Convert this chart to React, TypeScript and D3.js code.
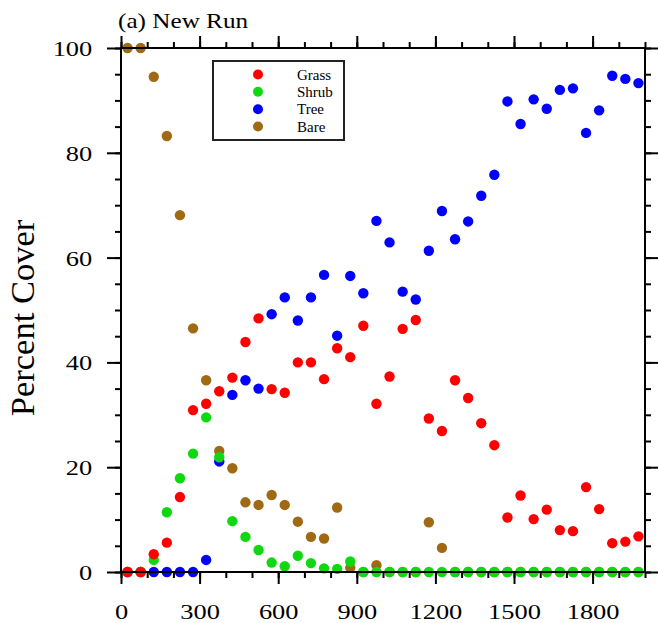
import React from "react";
import * as d3 from "d3";

const years = [
  25, 75, 125, 175, 225, 275, 325, 375, 425, 475,
  525, 575, 625, 675, 725, 775, 825, 875, 925, 975,
  1025, 1075, 1125, 1175, 1225, 1275, 1325, 1375, 1425, 1475,
  1525, 1575, 1625, 1675, 1725, 1775, 1825, 1875, 1925, 1975,
];

const grass = [
  0, 0, 3.4, 5.6, 14.3, 30.9, 32.1, 34.5, 37.1, 43.9,
  48.4, 34.9, 34.2, 40.0, 40.0, 36.8, 42.7, 41.0, 47.0, 32.1,
  37.3, 46.4, 48.1, 29.3, 26.9, 36.6, 33.2, 28.4, 24.2, 10.4,
  14.6, 10.1, 11.9, 8.0, 7.8, 16.2, 12.0, 5.5, 5.8, 6.8,
];

const shrub = [
  0, 0, 2.3, 11.4, 17.9, 22.6, 29.5, 21.9, 9.7, 6.7,
  4.2, 1.8, 1.1, 3.1, 1.7, 0.7, 0.6, 2.0, 0, 0,
  0, 0, 0, 0, 0, 0, 0, 0, 0, 0,
  0, 0, 0, 0, 0, 0, 0, 0, 0, 0,
];

const tree = [
  0, 0, 0, 0, 0, 0, 2.3, 21.1, 33.8, 36.6,
  35.0, 49.2, 52.4, 48.0, 52.4, 56.7, 45.1, 56.5, 53.2, 67.0,
  62.9, 53.5, 52.0, 61.3, 68.9, 63.5, 66.9, 71.8, 75.8, 89.8,
  85.5, 90.2, 88.4, 92.0, 92.3, 83.8, 88.1, 94.7, 94.1, 93.3,
];

const bare = [
  100, 100, 94.5, 83.2, 68.1, 46.5, 36.6, 23.1, 19.8, 13.3,
  12.8, 14.7, 12.8, 9.6, 6.7, 6.4, 12.3, 0.8, 0, 1.3,
  0, 0, 0, 9.5, 4.6, 0, 0, 0, 0, 0,
  0, 0, 0, 0, 0, 0, 0, 0, 0, 0,
];

const seriesNames = ["Grass", "Shrub", "Tree", "Bare"];
const seriesColors = ["#ff0000", "#10d810", "#0000ff", "#a06a14"];
// drawing order: bare first, grass on top
const drawOrder = [3, 2, 1, 0];

const xMajor = [0, 300, 600, 900, 1200, 1500, 1800];
const yMajor = [0, 20, 40, 60, 80, 100];

const FONT = "'Liberation Serif', 'Times New Roman', serif";

const App = () => {
  const ref = React.useRef<SVGSVGElement>(null);

  React.useEffect(() => {
    const svg = d3.select(ref.current);
    svg.selectAll("*").remove();

    const margin = { left: 121, top: 48, right: 13, bottom: 51 };
    const width = 658, height = 623;
    const x = d3.scaleLinear([0, 2000], [margin.left, width - margin.right]);
    const y = d3.scaleLinear([0, 100], [height - margin.bottom, margin.top]);
    const [x0, x1] = x.range();
    const [y0, y1] = y.range();

    const allSeries = [grass, shrub, tree, bare];

    // points
    drawOrder.forEach(k => {
      svg.append("g")
        .selectAll("circle")
        .data(years.map((yr, i) => [yr, allSeries[k][i]]))
        .join("circle")
        .attr("cx", d => x(d[0]))
        .attr("cy", d => y(d[1]))
        .attr("r", 5.2)
        .attr("fill", seriesColors[k]);
    });

    const styleAxis = g => {
      g.select(".domain").remove();
      g.selectAll("line").attr("stroke", "#000").attr("stroke-width", 2);
      g.selectAll("text")
        .attr("font-family", FONT)
        .attr("font-size", 22)
        .attr("fill", "#000");
      return g;
    };

    // bottom
    svg.append("g").attr("transform", `translate(0,${y0})`)
      .call(d3.axisBottom(x).tickValues(d3.range(0, 2001, 100)).tickSize(6).tickFormat(() => ""))
      .call(styleAxis);
    svg.append("g").attr("transform", `translate(0,${y0})`)
      .call(d3.axisBottom(x).tickValues(xMajor).tickSize(12).tickPadding(19).tickFormat(d3.format("d")))
      .call(styleAxis)
      .call(g => g.selectAll("text").attr("transform", "scale(1.2,1)"));
    // top
    svg.append("g").attr("transform", `translate(0,${y1})`)
      .call(d3.axisTop(x).tickValues(d3.range(0, 2001, 100)).tickSize(6).tickFormat(() => ""))
      .call(styleAxis);
    svg.append("g").attr("transform", `translate(0,${y1})`)
      .call(d3.axisTop(x).tickValues(xMajor).tickSize(12).tickFormat(() => ""))
      .call(styleAxis);
    // left
    svg.append("g").attr("transform", `translate(${x0},0)`)
      .call(d3.axisLeft(y).tickValues(d3.range(0, 101, 5)).tickSize(6).tickFormat(() => ""))
      .call(styleAxis);
    svg.append("g").attr("transform", `translate(${x0},0)`)
      .call(d3.axisLeft(y).tickValues(yMajor).tickSize(14).tickPadding(10).tickFormat(d3.format("d")))
      .call(styleAxis)
      .call(g => g.selectAll("text").attr("transform", "scale(1.2,1)").attr("dy", "0.34em"));
    // right
    svg.append("g").attr("transform", `translate(${x1},0)`)
      .call(d3.axisRight(y).tickValues(d3.range(0, 101, 5)).tickSize(6).tickFormat(() => ""))
      .call(styleAxis);
    svg.append("g").attr("transform", `translate(${x1},0)`)
      .call(d3.axisRight(y).tickValues(yMajor).tickSize(14).tickFormat(() => ""))
      .call(styleAxis);

    // frame
    svg.append("rect")
      .attr("x", x0).attr("y", y1)
      .attr("width", x1 - x0).attr("height", y0 - y1)
      .attr("fill", "none").attr("stroke", "#000").attr("stroke-width", 2);

    // title
    svg.append("text")
      .attr("transform", `translate(118,28) scale(1.2,1)`)
      .attr("font-family", FONT).attr("font-size", 21)
      .text("(a) New Run");

    // y label
    svg.append("text")
      .attr("transform", `translate(34,${(y0 + y1) / 2 + 8}) rotate(-90)`)
      .attr("text-anchor", "middle")
      .attr("font-family", FONT).attr("font-size", 34.5)
      .text("Percent Cover");

    // legend
    const legend = svg.append("g");
    legend.append("rect")
      .attr("x", 213).attr("y", 61).attr("width", 131).attr("height", 79)
      .attr("fill", "#fff").attr("stroke", "#222").attr("stroke-width", 2);
    const ly = d3.scalePoint(seriesNames, [74.5, 126.5]);
    seriesNames.forEach((name, k) => {
      legend.append("circle")
        .attr("cx", 258).attr("cy", ly(name)).attr("r", 5)
        .attr("fill", seriesColors[k]);
      legend.append("text")
        .attr("x", 297).attr("y", ly(name) + 5)
        .attr("font-family", FONT).attr("font-size", 15)
        .text(name);
    });
  }, []);

  return (
    <svg
      ref={ref}
      width={658}
      height={623}
      style={{ position: "absolute", left: 0, top: 0, background: "#fff" }}
    />
  );
};

export default App;
